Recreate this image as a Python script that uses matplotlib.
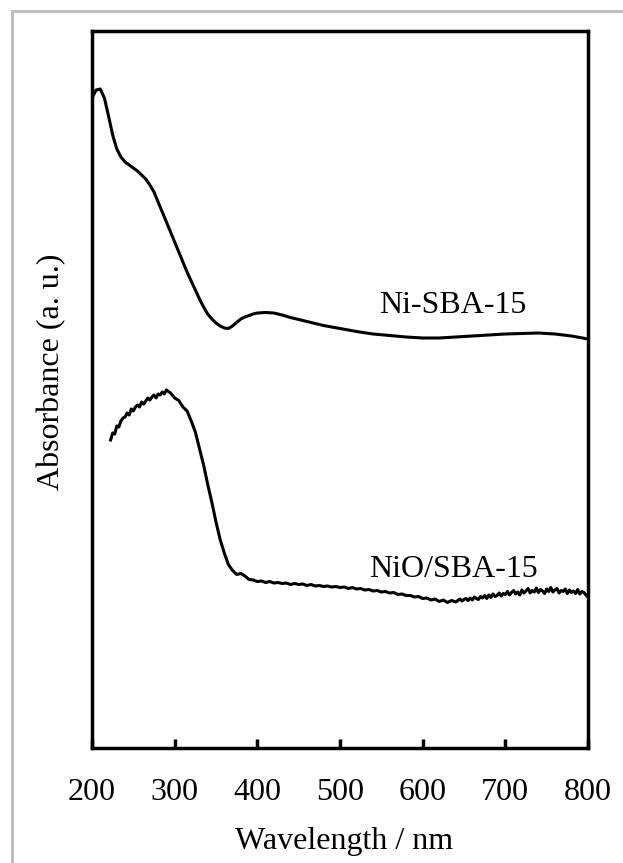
import numpy as np
import matplotlib
matplotlib.use("Agg")
import matplotlib.pyplot as plt
from matplotlib.patches import Rectangle

plt.rcParams['font.family'] = ['Liberation Serif', 'DejaVu Serif']

# Ni-SBA-15 spectrum (smooth)
ni_wl = [200, 205, 210, 215, 220, 225, 230, 235, 240, 245, 250, 255, 260, 265,
         270, 275, 280, 285, 290, 295, 300, 305, 310, 315, 320, 325, 330, 335,
         340, 345, 350, 355, 360, 365, 370, 375, 380, 385, 390, 395, 400, 410,
         420, 430, 440, 460, 480, 500, 520, 540, 560, 580, 600, 620, 640, 660,
         680, 700, 720, 740, 760, 780, 800]
ni_abs = [6.50, 6.58, 6.59, 6.50, 6.32, 6.13, 5.99, 5.91, 5.86, 5.83, 5.80, 5.77,
          5.73, 5.69, 5.63, 5.56, 5.46, 5.36, 5.26, 5.16, 5.06, 4.96, 4.86, 4.76,
          4.67, 4.58, 4.49, 4.41, 4.34, 4.29, 4.25, 4.22, 4.20, 4.195, 4.22, 4.255,
          4.29, 4.31, 4.325, 4.34, 4.35, 4.355, 4.35, 4.33, 4.305, 4.265, 4.225,
          4.195, 4.165, 4.14, 4.125, 4.11, 4.10, 4.10, 4.11, 4.12, 4.13, 4.14,
          4.145, 4.15, 4.14, 4.12, 4.09]

# NiO/SBA-15 spectrum (noisy), sampled at 2.5 / 5 / 2.5 nm
nio_wl = np.concatenate([np.arange(222.5, 290.1, 2.5),
                         np.arange(295, 640.1, 5),
                         np.arange(642.5, 800.1, 2.5)])
nio_abs = [3.08, 3.15, 3.14, 3.22, 3.21, 3.27, 3.30, 3.31, 3.35, 3.33, 3.39, 3.37,
           3.41, 3.43, 3.41, 3.46, 3.44, 3.47, 3.50, 3.48, 3.51, 3.53, 3.50, 3.54,
           3.53, 3.56, 3.54, 3.58,
           3.55, 3.50, 3.475, 3.41, 3.37, 3.27, 3.16, 2.995, 2.83, 2.635, 2.455,
           2.26, 2.085, 1.95, 1.835, 1.775, 1.735, 1.745, 1.72, 1.685, 1.68, 1.665,
           1.67, 1.655, 1.665, 1.65, 1.655, 1.645, 1.65, 1.635, 1.645, 1.635, 1.64,
           1.625, 1.635, 1.62, 1.625, 1.615, 1.62, 1.61, 1.615, 1.605, 1.61, 1.595,
           1.605, 1.59, 1.595, 1.58, 1.585, 1.57, 1.575, 1.56, 1.565, 1.55, 1.555,
           1.535, 1.54, 1.525, 1.525, 1.51, 1.515, 1.495, 1.50, 1.48, 1.49, 1.465,
           1.48, 1.455, 1.475, 1.46,
           1.475, 1.49, 1.47, 1.485, 1.495, 1.475, 1.50, 1.48, 1.51, 1.495, 1.485,
           1.515, 1.50, 1.525, 1.495, 1.53, 1.505, 1.54, 1.515, 1.525, 1.55, 1.52,
           1.545, 1.535, 1.565, 1.53, 1.555, 1.575, 1.54, 1.56, 1.53, 1.58, 1.55,
           1.57, 1.595, 1.55, 1.575, 1.56, 1.60, 1.555, 1.585, 1.57, 1.545, 1.59,
           1.565, 1.605, 1.56, 1.58, 1.595, 1.55, 1.575, 1.565, 1.59, 1.545, 1.58,
           1.555, 1.57, 1.545, 1.585, 1.54, 1.565, 1.555, 1.53, 1.51]

xticks = [200, 300, 400, 500, 600, 700, 800]

W, H = 623, 863
fig = plt.figure(figsize=(W / 100, H / 100), dpi=100)
ax = fig.add_axes([92 / W, (H - 748) / H, 496 / W, 717 / H])

# light gray frame around the figure
fig.add_artist(Rectangle((11.5 / W, -0.2), 2, (H - 11.5) / H + 0.2,
                         transform=fig.transFigure, fill=False,
                         edgecolor='#c0c0c0', lw=2.2))

ax.plot(ni_wl, ni_abs, color='black', lw=2.2)
ax.plot(nio_wl, nio_abs, color='black', lw=2.2)

ax.text(637, 4.35, "Ni-SBA-15", fontsize=23, ha='center', va='baseline')
ax.text(637, 1.71, "NiO/SBA-15", fontsize=23, ha='center', va='baseline')

ax.set_xlim(200, 800)
ax.set_ylim(0, 7.17)
ax.set_xticks(xticks)
ax.set_yticks([])
ax.tick_params(axis='x', direction='in', length=6.5, width=2.5, pad=21.5,
               labelsize=23)
for s in ax.spines.values():
    s.set_linewidth(2.5)

ax.set_xlabel("Wavelength / nm", fontsize=23, va='top')
ax.xaxis.set_label_coords(0.508, -0.110)
ax.set_ylabel("Absorbance (a. u.)", fontsize=23, va='center', ha='center')
ax.yaxis.set_label_coords(-0.081, 0.524)

plt.savefig("out.png", dpi=100)
plt.close()
